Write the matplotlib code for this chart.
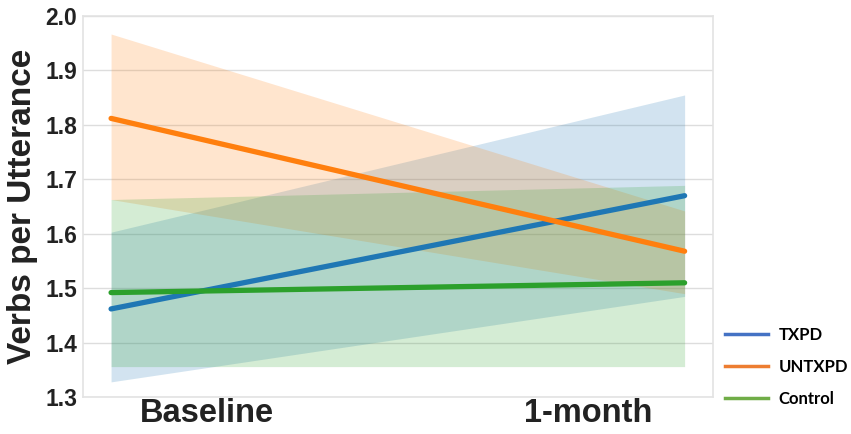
import matplotlib
matplotlib.use('Agg')
import matplotlib.pyplot as plt
from matplotlib.lines import Line2D

# Data
timepoints = [0, 1]
tick_labels = ['Baseline', '1-month']
groups = ['TXPD', 'UNTXPD', 'Control']

txpd_mean = [1.462, 1.670]
txpd_low = [1.328, 1.485]
txpd_high = [1.603, 1.855]

untxpd_mean = [1.812, 1.568]
untxpd_low = [1.663, 1.490]
untxpd_high = [1.967, 1.642]

control_mean = [1.492, 1.510]
control_low = [1.356, 1.356]
control_high = [1.663, 1.689]

line_colors = ['#1f77b4', '#ff7f0e', '#2ca02c']
legend_colors = ['#4472c4', '#ed7d31', '#70ad47']

fig = plt.figure(figsize=(8.51, 4.34), dpi=100)
ax = fig.add_axes([0.0975, 0.085, 0.74, 0.878])

series = [
    (txpd_mean, txpd_low, txpd_high),
    (untxpd_mean, untxpd_low, untxpd_high),
    (control_mean, control_low, control_high),
]
for (m, lo, hi), c in zip(series, line_colors):
    ax.fill_between(timepoints, lo, hi, color=c, alpha=0.2, linewidth=0)
for (m, lo, hi), c in zip(series, line_colors):
    ax.plot(timepoints, m, color=c, linewidth=3.8, solid_capstyle='round')

ax.set_xlim(-0.049, 1.049)
ax.set_ylim(1.3, 2.0)
ax.set_yticks([1.3, 1.4, 1.5, 1.6, 1.7, 1.8, 1.9, 2.0])
ax.set_yticklabels(['1.3', '1.4', '1.5', '1.6', '1.7', '1.8', '1.9', '2.0'],
                   fontsize=16.5, fontweight='bold', family='Liberation Sans', color='#222222')
# the category labels sit inward from the data points in the original
ax.set_xticks([0.168, 0.832])
ax.set_xticklabels(tick_labels, fontsize=23.5, fontweight='bold', family='Liberation Sans', color='#222222')
ax.tick_params(length=0, pad=4)
ax.tick_params(axis='x', pad=1)
ax.grid(axis='y', color='#dddddd', linewidth=1)
ax.set_axisbelow(True)
for s in ax.spines.values():
    s.set_color('#e3e3e3')
    s.set_linewidth(1.2)

ax.set_ylabel('Verbs per Utterance', fontsize=24, fontweight='bold', family='Liberation Sans',
              color='#222222', labelpad=5)

handles = [Line2D([0], [0], color=c, linewidth=2.5) for c in legend_colors]
leg = fig.legend(handles, groups, loc='center left', bbox_to_anchor=(0.852, 0.155),
                 frameon=False, handlelength=2.6, labelspacing=0.95, handletextpad=0.6,
                 borderaxespad=0, borderpad=0,
                 prop={'family': 'Lato', 'weight': 'bold', 'size': 12})

fig.savefig('out.png', dpi=100)
